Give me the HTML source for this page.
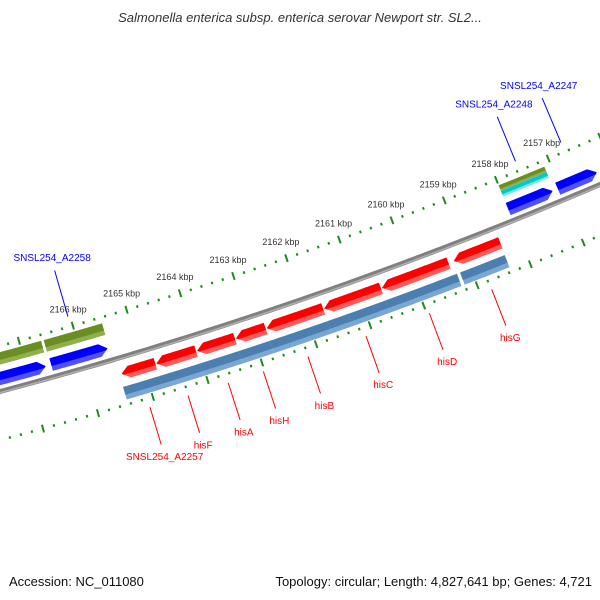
<!DOCTYPE html>
<html><head><meta charset="utf-8"><style>
html,body{margin:0;padding:0;background:#fff;}
svg{display:block;font-family:"Liberation Sans",sans-serif;}
</style></head><body>
<svg id="map" width="600" height="600" viewBox="0 0 600 600" xmlns="http://www.w3.org/2000/svg">
<text x="300" y="22" text-anchor="middle" font-size="13" font-style="italic" fill="#333">Salmonella enterica subsp. enterica serovar Newport str. SL2...</text>
<g id="ticks"></g>
<g id="backbone"></g>
<g id="feats"></g>
<g id="labels"></g>
<text x="9" y="586" font-size="13" fill="#111">Accession: NC_011080</text>
<text x="592" y="586" text-anchor="end" font-size="13" fill="#111">Topology: circular; Length: 4,827,641 bp; Genes: 4,721</text>
</svg>
<script>
// data
const redNames=["SNSL254_A2257","hisF","hisA","hisH","hisB","hisC","hisD","hisG"];
const redStart=[2164.79,2164.04,2163.32,2162.75,2161.68,2160.60,2159.33,2158.35];
const redEnd=[2165.41,2164.77,2164.02,2163.30,2162.73,2161.66,2160.58,2159.23];
const steelStart=[2164.79,2164.04,2163.32,2162.75,2161.68,2160.60,2159.26];
const steelEnd=[2165.45,2164.79,2164.04,2163.32,2162.75,2161.68,2160.60];
const steel2Start=[2158.36];
const steel2End=[2159.20];
const blueStart=[2166.66,2165.52,2157.15,2156.30];
const blueEnd=[2168.5,2166.56,2158.0,2157.05];
const oliveStart=[2166.62,2165.49,2157.12];
const oliveEnd=[2168.5,2166.57,2158.0];
const cyanStart=[2157.12];
const cyanEnd=[2158.0];
const blueLabelNames=["SNSL254_A2258","SNSL254_A2248","SNSL254_A2247"];
const blueLabelPos=[2166.04,2157.56,2156.68];
const kbpTicks=[2157,2158,2159,2160,2161,2162,2163,2164,2165,2166];

const NS="http://www.w3.org/2000/svg";
const CX=-1141,CY=-3888,R0=4429,K0=2166,A0=73.93,DPK=0.732;
function ang(k){return (A0+(k-K0)*DPK)*Math.PI/180;}
function pt(r,a){return [CX+r*Math.cos(a),CY+r*Math.sin(a)];}
function mk(tag,attrs,parent){const e=document.createElementNS(NS,tag);for(const k in attrs)e.setAttribute(k,attrs[k]);parent.appendChild(e);return e;}
function arcPts(r,a1,a2,n){const p=[];for(let i=0;i<=n;i++){p.push(pt(r,a1+(a2-a1)*i/n));}return p;}
function fmt(p){return p.map(q=>q[0].toFixed(2)+","+q[1].toFixed(2)).join(" ");}

// ticks
const tg=document.getElementById('ticks');
[4385,4476].forEach(function(rr,ri){
  for(let i=0;i<=110;i++){
    const k=2155+i*0.2;const a=ang(k);
    const major=(i%5===0);const hl=major?4:1.3;
    const p1=pt(rr-hl,a),p2=pt(rr+hl,a);
    const l=mk('line',{x1:p1[0],y1:p1[1],x2:p2[0],y2:p2[1],stroke:'#1c8c1c','stroke-width':2},tg);
    
    
  }
});
kbpTicks.forEach(function(k){
  const p=pt(4368,ang(k));
  const t=mk('text',{x:p[0],y:p[1]+3,'text-anchor':'middle','font-size':'9',fill:'#333'},tg);
  t.textContent=k+' kbp';
  
  
});

// backbone
const bg=document.getElementById('backbone');
const b1=mk('polyline',{points:fmt(arcPts(R0,ang(2150),ang(2172),200)),fill:'none',stroke:'#808080','stroke-width':5},bg);


const b2=mk('polyline',{points:fmt(arcPts(R0+1.2,ang(2150),ang(2172),200)),fill:'none',stroke:'#b0b0b0','stroke-width':1.5},bg);



// features
const fg=document.getElementById('feats');
function band(aBody,aHB,aTip,r1,r2,ra,rb){
  const rm=(r1+r2)/2;
  function e(r){return aHB+(aTip-aHB)*(1-Math.abs(r-rm)/((r2-r1)/2));}
  let p=arcPts(ra,aBody,e(ra),30);
  if(rm>ra&&rm<rb)p.push(pt(rm,aTip));
  p.push(pt(rb,e(rb)));
  p=p.concat(arcPts(rb,e(rb),aBody,30).slice(1));
  return fmt(p);
}
function feature(ks,ke,r1,r2,head,c1,c2,name){
  const hk=0.14;
  let aBody,aHB,aTip;
  if(head<0){aBody=ang(ks);aTip=ang(ke);aHB=ang(ke-hk);}
  else if(head>0){aBody=ang(ke);aTip=ang(ks);aHB=ang(ks+hk);}
  else{aBody=ang(ks);aTip=ang(ke);aHB=aTip;}
  const g=mk('g',{},fg);
  
  
  mk('polygon',{points:band(aBody,aHB,aTip,r1,r2,r1,r2),fill:c2},g);
  const rs=r1+(r2-r1)*0.62;
  mk('polygon',{points:band(aBody,aHB,aTip,r1,r2,r1,rs),fill:c1},g);
}
for(let i=0;i<oliveStart.length;i++)feature(oliveStart[i],oliveEnd[i],R0-38,i===2?R0-32:R0-26,0,'#6b8e23','#8fae4c','olive-feature-'+(i+1));
for(let i=0;i<cyanStart.length;i++)feature(cyanStart[i],cyanEnd[i],R0-32,R0-26,0,'#00c8d0','#6ee8ee','cyan-feature-'+(i+1));
for(let i=0;i<blueStart.length;i++)feature(blueStart[i],blueEnd[i],R0-19,R0-6,1,'#0000ff','#5050ff','blue-gene-'+(i+1));
for(let i=0;i<steelStart.length;i++)feature(steelStart[i],steelEnd[i],R0+29,R0+42,0,'#4a7fb0','#79a6d2','steelblue-feature-'+(i+1));
for(let i=0;i<steel2Start.length;i++)feature(steel2Start[i],steel2End[i],R0+29,R0+42,0,'#4a7fb0','#79a6d2','steelblue-feature-hisG');
for(let i=0;i<redStart.length;i++)feature(redStart[i],redEnd[i],R0+10,R0+22,-1,'#ff0000','#ff5a5a','gene-'+redNames[i]);

// labels
const lg=document.getElementById('labels');
for(let i=0;i<redNames.length;i++){
  const a=ang((redStart[i]+redEnd[i])/2);
  const p1=pt(4485,a),p2=pt(4524,a),pt3=pt(4536,a);
  const l=mk('line',{x1:p1[0],y1:p1[1],x2:p2[0],y2:p2[1],stroke:'#ff0000','stroke-width':1},lg);
  
  
  const t=mk('text',{x:pt3[0],y:pt3[1]+4,'text-anchor':'middle','font-size':'10',fill:'#ff0000'},lg);
  t.textContent=redNames[i];
  
  
}
for(let i=0;i<blueLabelNames.length;i++){
  const a=ang(blueLabelPos[i]);
  const p1=pt(4375,a),p2=pt(4327,a),pt3=pt(4318,a);
  const l=mk('line',{x1:p1[0],y1:p1[1],x2:p2[0],y2:p2[1],stroke:'#0000ff','stroke-width':1},lg);
  
  
  const t=mk('text',{x:pt3[0],y:pt3[1]-1,'text-anchor':'middle','font-size':'10',fill:'#0000ff'},lg);
  t.textContent=blueLabelNames[i];
  
  
}
</script>
</body></html>
